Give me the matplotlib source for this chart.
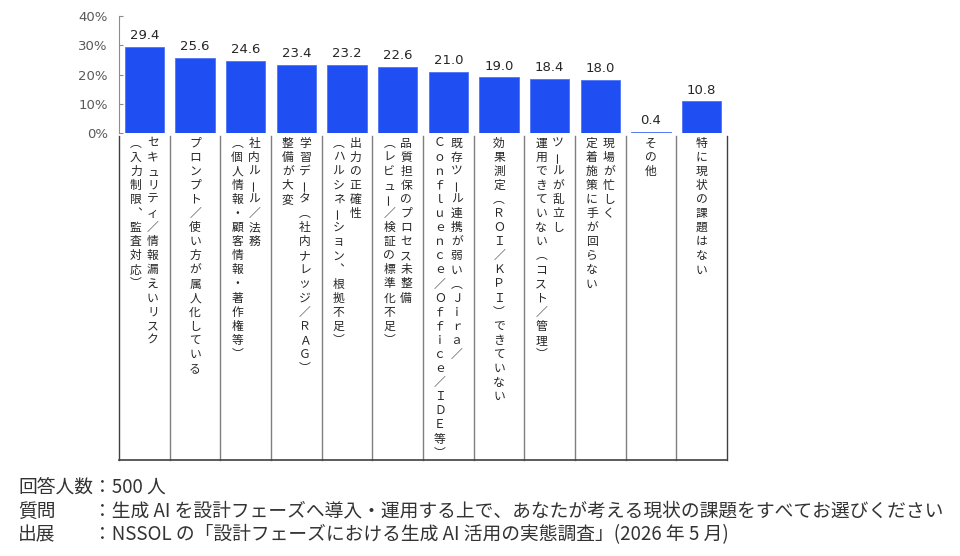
import matplotlib
matplotlib.use('Agg')
import matplotlib.pyplot as plt
import numpy as np
from matplotlib.transforms import blended_transform_factory

# category labels, one list entry per vertical column (read right to left)
labels = [
    ["セキュリティ／情報漏えいリスク", "（入力制限、監査対応）"],
    ["プロンプト／使い方が属人化している"],
    ["社内ルール／法務", "（個人情報・顧客情報・著作権等）"],
    ["学習データ（社内ナレッジ／ＲＡＧ）", "整備が大変"],
    ["出力の正確性", "（ハルシネーション、根拠不足）"],
    ["品質担保のプロセス未整備", "（レビュー／検証の標準化不足）"],
    ["既存ツール連携が弱い（Ｊｉｒａ／", "Ｃｏｎｆｌｕｅｎｃｅ／Ｏｆｆｉｃｅ／ＩＤＥ等）"],
    ["効果測定（ＲＯＩ／ＫＰＩ）できていない"],
    ["ツールが乱立し", "運用できていない（コスト／管理）"],
    ["現場が忙しく", "定着施策に手が回らない"],
    ["その他"],
    ["特に現状の課題はない"],
]
values = [29.4, 25.6, 24.6, 23.4, 23.2, 22.6, 21.0, 19.0, 18.4, 18.0, 0.4, 10.8]
yticks = [0, 10, 20, 30, 40]

notes = [
    ("回答人数", "：500 人"),
    ("質問", "：生成 AI を設計フェーズへ導入・運用する上で、あなたが考える現状の課題をすべてお選びください"),
    ("出展", "：NSSOL の「設計フェーズにおける生成 AI 活用の実態調査」(2026 年 5 月)"),
]

JP = ['Noto Sans CJK JP', 'DejaVu Sans']
W, H = 960, 556

fig = plt.figure(figsize=(W / 100, H / 100), dpi=100)
ax = fig.add_axes([119 / W, 1 - 133 / H, (727 - 119) / W, (133 - 16) / H])

n = len(values)
x = np.arange(n)
ax.bar(x, values, width=0.77, color='#1f4ef2', edgecolor='#4d74f5', linewidth=0.6)
for xi, v in zip(x, values):
    ax.annotate(f'{v:.1f}', (xi, v), xytext=(0, 3.5), textcoords='offset points',
                ha='center', va='bottom', fontsize=9.5, color='#262626')

ax.set_xlim(-0.5, n - 0.5)
ax.set_ylim(0, 40)
ax.set_yticks(yticks)
ax.set_yticklabels([f'{t}%' for t in yticks])
ax.set_xticks([])
ax.tick_params(axis='y', direction='in', length=3, color='#8c8c8c',
               labelsize=9.5, labelcolor='#595959', pad=8)
for s in ['top', 'right', 'bottom']:
    ax.spines[s].set_visible(False)
ax.spines['left'].set_color('#8c8c8c')

# label box under the bars
trans = blended_transform_factory(ax.transData, fig.transFigure)
y_top, y_bot = 1 - 136 / H, 1 - 460 / H
for b in np.arange(-0.5, n):
    c = '#404040' if b in (-0.5, n - 0.5) else '#7f7f7f'
    ax.plot([b, b], [y_top, y_bot], transform=trans, clip_on=False, color=c, lw=1)
ax.plot([-0.5, n - 0.5], [y_bot, y_bot], transform=trans, clip_on=False,
        color='#404040', lw=1.2)

# vertical japanese text
vert = {'（': '︵', '）': '︶', '、': '︑'}
cat_px = (727 - 119) / n
pitch = 14.1
for i, cols in enumerate(labels):
    if len(cols) == 1:
        offs = [0]
    else:
        offs = [8.5, -8.5]
    for col, dx in zip(cols, offs):
        xc = i + dx / cat_px
        for j, ch in enumerate(col):
            yc = 1 - (143 + j * pitch) / H
            rot = 90 if ch == 'ー' else 0
            ax.text(xc, yc, vert.get(ch, ch), transform=trans, ha='center', va='center',
                    rotation=rot, fontsize=8.5, color='#262626', family=JP,
                    clip_on=False)

# footnotes
for (head, body), yy in zip(notes, [487, 511, 535]):
    fig.text(18 / W, 1 - yy / H, head, ha='left', va='center', fontsize=13.5,
             color='#333333', family=JP)
    fig.text(93 / W, 1 - yy / H, body, ha='left', va='center', fontsize=13.5,
             color='#333333', family=JP)

fig.savefig('out.png', dpi=100)
